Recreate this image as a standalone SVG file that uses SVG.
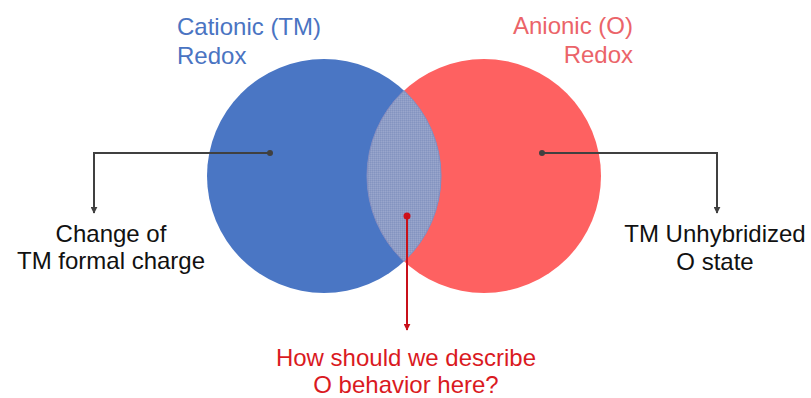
<svg xmlns="http://www.w3.org/2000/svg" width="811" height="398" viewBox="0 0 811 398">
  <style>
    text { font-family: "Liberation Sans", Arial, sans-serif; font-size: 24px; }
    .blue { fill: #4A74C2; }
    .red { fill: #EB6469; }
    .dark { fill: #111111; }
    .alert { fill: #DA1A1F; }
    .conn { fill: none; stroke: #404040; stroke-width: 2; }
    .connr { fill: none; stroke: #C8101A; stroke-width: 2; }
  </style>
  <defs>
    <marker id="ah" viewBox="0 0 10 10" refX="9" refY="5" markerWidth="3.5" markerHeight="3.5" orient="auto" markerUnits="strokeWidth">
      <path d="M0,0 L10,5 L0,10 Z" fill="#404040"/>
    </marker>
    <marker id="ahr" viewBox="0 0 10 10" refX="9" refY="5" markerWidth="3.5" markerHeight="3.5" orient="auto" markerUnits="strokeWidth">
      <path d="M0,0 L10,5 L0,10 Z" fill="#C8101A"/>
    </marker>
    <pattern id="dither" width="2" height="2" patternUnits="userSpaceOnUse">
      <rect width="2" height="2" fill="#8E9DC6"/>
      <rect width="1" height="1" fill="#8494C0"/>
      <rect x="1" y="1" width="1" height="1" fill="#9AA6CC"/>
    </pattern>
  </defs>

  <g id="cationic">
    <circle cx="324" cy="176" r="117" fill="#4A76C4"/>
    <text class="blue" x="177" y="35">Cationic (TM)</text>
    <text class="blue" x="177" y="64">Redox</text>
  </g>

  <g id="anionic">
    <circle cx="484" cy="176" r="117" fill="#FE6161"/>
    <text class="red" x="633" y="34" text-anchor="end">Anionic (O)</text>
    <text class="red" x="633" y="63" text-anchor="end">Redox</text>
  </g>

  <g id="overlap">
    <path d="M404,90.6 A117,117 0 0 1 404,261.4 A117,117 0 0 1 404,90.6 Z" fill="url(#dither)" stroke="#7F8FC4" stroke-width="1"/>
  </g>

  <g id="connectors">
    <circle cx="270" cy="153" r="3" fill="#404040"/>
    <path class="conn" d="M270,153 H94 V213" marker-end="url(#ah)"/>
    <circle cx="542" cy="153" r="3" fill="#404040"/>
    <path class="conn" d="M542,153 H717 V213" marker-end="url(#ah)"/>
    <circle cx="407" cy="216" r="3.5" fill="#D0101A"/>
    <path class="connr" d="M407,216 V330" marker-end="url(#ahr)"/>
  </g>

  <g id="label-left">
    <text class="dark" x="111" y="242" text-anchor="middle">Change of</text>
    <text class="dark" x="111" y="269" text-anchor="middle">TM formal charge</text>
  </g>

  <g id="label-right">
    <text class="dark" x="715" y="242" text-anchor="middle">TM Unhybridized</text>
    <text class="dark" x="715" y="270" text-anchor="middle">O state</text>
  </g>

  <g id="label-bottom">
    <text class="alert" x="406" y="366" text-anchor="middle">How should we describe</text>
    <text class="alert" x="406" y="393" text-anchor="middle">O behavior here?</text>
  </g>
</svg>
